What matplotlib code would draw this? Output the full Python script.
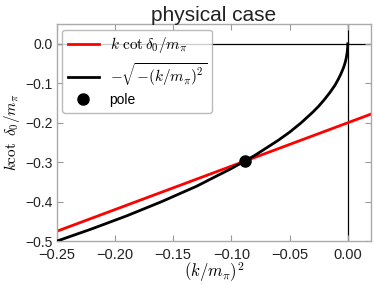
import matplotlib
matplotlib.use('Agg')
import matplotlib.pyplot as plt

# red line: effective range expansion
k2_line = [-0.25, 0.02]
kcot_line = [-0.475, -0.178]

# black curve: -sqrt(-(k/m)^2)
k2_curve = [-0.25, -0.22, -0.19, -0.16, -0.13, -0.10, -0.08, -0.06, -0.05, -0.04,
            -0.03, -0.025, -0.02, -0.015, -0.011, -0.008, -0.006, -0.004, -0.003,
            -0.002, -0.0012, -0.0006, -0.0003, -0.0001, 0.0]
root_curve = [-0.5, -0.469, -0.436, -0.400, -0.361, -0.316, -0.283, -0.245, -0.224, -0.200,
              -0.173, -0.158, -0.141, -0.122, -0.105, -0.089, -0.077, -0.063, -0.055,
              -0.045, -0.035, -0.024, -0.017, -0.010, 0.0]

pole_k2 = [-0.088]
pole_val = [-0.297]

xticks = [-0.25, -0.20, -0.15, -0.10, -0.05, 0.00]
yticks = [0.0, -0.1, -0.2, -0.3, -0.4, -0.5]

plt.rcParams['font.family'] = ['Liberation Sans', 'DejaVu Sans']
plt.rcParams['mathtext.fontset'] = 'cm'

fig = plt.figure(figsize=(3.74, 2.84), dpi=100)
ax = fig.add_axes([0.152, 0.151, 0.840, 0.764])

ax.axhline(0, color='black', lw=0.9, zorder=1)
ax.axvline(0, color='black', lw=0.9, zorder=1)
ax.plot(k2_line, kcot_line, color='red', lw=2, label=r'$k\ \cot\delta_0/m_\pi$', zorder=2)
ax.plot(k2_curve, root_curve, color='black', lw=2, label=r'$-\sqrt{-(k/m_\pi)^2}$', zorder=3)
ax.plot(pole_k2, pole_val, 'o', color='black', ms=8, label='pole', zorder=4)

ax.set_xlim(-0.25, 0.02)
ax.set_ylim(-0.5, 0.05)
ax.set_xticks(xticks)
ax.set_yticks(yticks)
ax.set_xticklabels([f'{t:.2f}'.replace('-', '\u2212') for t in xticks])
ax.set_yticklabels([f'{t:.1f}'.replace('-', '\u2212') if t != 0 else '0.0' for t in yticks])
ax.tick_params(direction='in', top=True, right=True, length=4, width=0.8,
               color='#999999', labelsize=10.5, labelcolor='#222222', pad=5)
ax.tick_params(axis='y', pad=3, labelsize=10)
for sp in ax.spines.values():
    sp.set_color('#aaaaaa')
    sp.set_linewidth(1.0)

ax.set_xlabel(r'$(k/m_\pi)^2$', fontsize=12, labelpad=-1)
ax.set_ylabel(r'$k\cot\ \delta_0/m_\pi$', fontsize=11, labelpad=2)
ax.set_title('physical case', fontsize=15, pad=2, color='#222222')

leg = ax.legend(loc='upper left', fontsize=10, frameon=True, fancybox=True,
                borderaxespad=0.4, handlelength=2.2, labelspacing=0.4,
                borderpad=0.4)
leg.get_frame().set_edgecolor('#aaaaaa')
for txt in leg.get_texts()[:2]:
    txt.set_fontsize(11)

fig.savefig('out.png', dpi=100)
